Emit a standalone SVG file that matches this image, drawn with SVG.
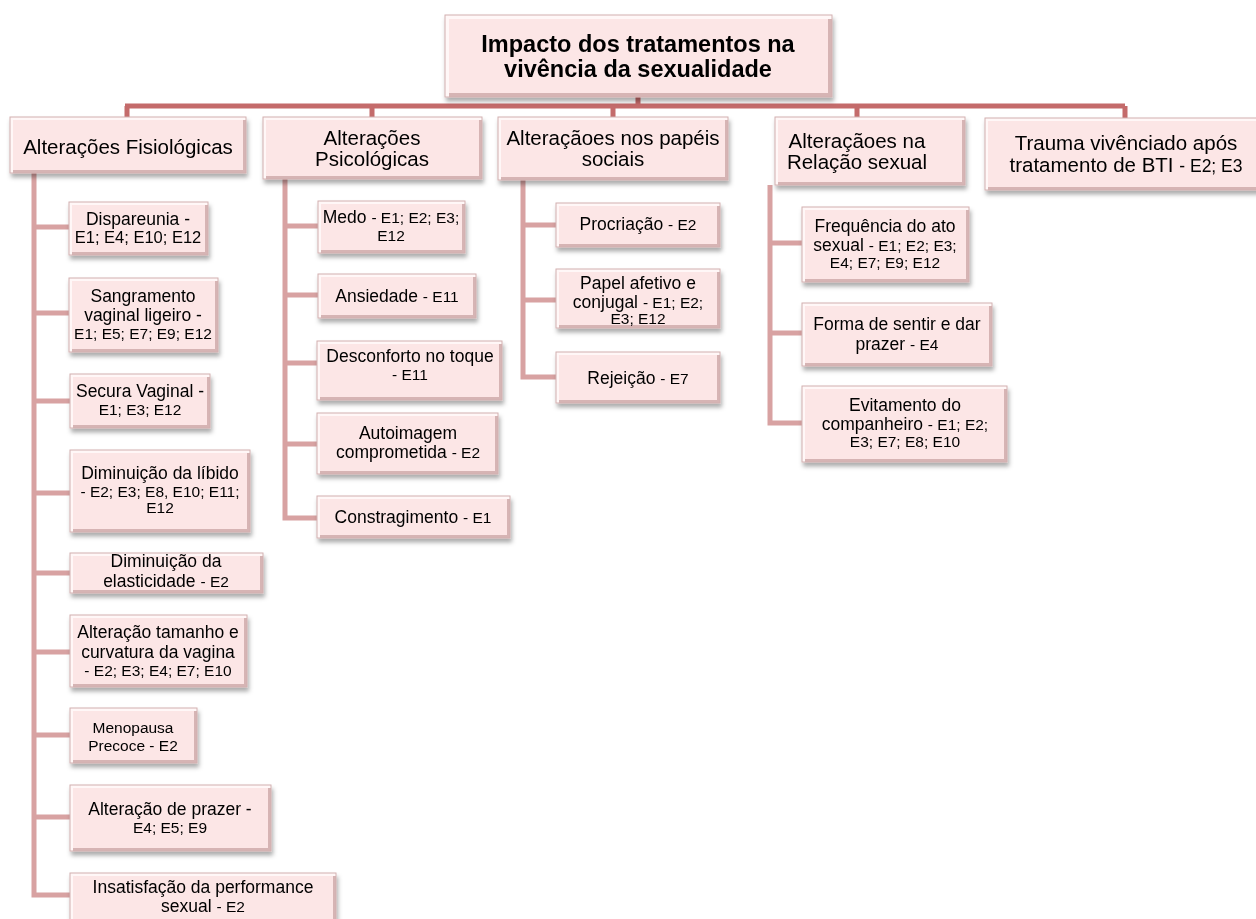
<svg xmlns="http://www.w3.org/2000/svg" width="1256" height="919" viewBox="0 0 1256 919">
<defs>
<filter id="sh" x="-10%" y="-10%" width="130%" height="140%">
<feDropShadow dx="1.5" dy="4" stdDeviation="2.2" flood-color="#000" flood-opacity="0.32"/>
</filter>
<style>
.lt{fill:#fff7f7}
.dk{fill:#d6b4b4}
.fc{fill:#fce6e6}
.ol{fill:none;stroke:#d2b0b0;stroke-width:1}
text{font-family:"Liberation Sans",Arial,sans-serif;fill:#000;text-anchor:middle}
.t0{font-size:23.5px;font-weight:bold}
.t1{font-size:20.5px}
.t2{font-size:17.5px}
.r{font-size:15.5px}
.bus{fill:none;stroke:#c46b6b;stroke-width:5}
.sp{fill:none;stroke:#d8a2a2;stroke-width:5}
</style>
</defs>
<rect width="1256" height="919" fill="#fff"/>

<g id="connectors">
<path class="bus" d="M638,97 V106 M125,106 H1125 M127,106 V118 M372,106 V118 M613,106 V118 M857,106 V118 M1125,106 V118"/>
<path class="sp" d="M34,173 V895 H70 M34,227 H70 M34,313 H70 M34,401 H70 M34,493 H70 M34,573 H70 M34,652 H70 M34,735 H70 M34,817 H70"/>
<path class="sp" d="M285,179 V518 H318 M285,226 H318 M285,295 H318 M285,363 H318 M285,444 H318"/>
<path class="sp" d="M523,180 V377 H556 M523,225 H556 M523,300 H556"/>
<path class="sp" d="M770,185 V423 H802 M770,243 H802 M770,333 H802"/>
</g>

<g id="root" filter="url(#sh)">
<rect class="lt" x="445" y="15" width="387" height="82"/><rect class="dk" x="449" y="19" width="383" height="78"/><rect class="fc" x="449" y="19" width="379" height="74"/><rect class="ol" x="445" y="15" width="387" height="82"/>
<text class="t0" x="638" y="52">Impacto dos tratamentos na</text>
<text class="t0" x="638" y="77">vivência da sexualidade</text>
</g>

<g id="fisio" filter="url(#sh)">
<rect class="lt" x="10" y="117" width="236" height="56"/><rect class="dk" x="13" y="120" width="233" height="53"/><rect class="fc" x="13" y="120" width="230" height="50"/><rect class="ol" x="10" y="117" width="236" height="56"/>
<text class="t1" x="128" y="154">Alterações Fisiológicas</text>
</g>
<g id="psico" filter="url(#sh)">
<rect class="lt" x="263" y="117" width="219" height="62"/><rect class="dk" x="266" y="120" width="216" height="59"/><rect class="fc" x="266" y="120" width="213" height="56"/><rect class="ol" x="263" y="117" width="219" height="62"/>
<text class="t1" x="372" y="145">Alterações</text>
<text class="t1" x="372" y="166">Psicológicas</text>
</g>
<g id="papeis" filter="url(#sh)">
<rect class="lt" x="498" y="117" width="230" height="63"/><rect class="dk" x="501" y="120" width="227" height="60"/><rect class="fc" x="501" y="120" width="224" height="57"/><rect class="ol" x="498" y="117" width="230" height="63"/>
<text class="t1" x="613" y="145">Alteraçãoes nos papéis</text>
<text class="t1" x="613" y="166">sociais</text>
</g>
<g id="relacao" filter="url(#sh)">
<rect class="lt" x="775" y="117" width="190" height="68"/><rect class="dk" x="778" y="120" width="187" height="65"/><rect class="fc" x="778" y="120" width="184" height="62"/><rect class="ol" x="775" y="117" width="190" height="68"/>
<text class="t1" x="857" y="148">Alteraçãoes na</text>
<text class="t1" x="857" y="169">Relação sexual</text>
</g>
<g id="trauma" filter="url(#sh)">
<rect class="lt" x="985" y="118" width="280" height="72"/><rect class="dk" x="988" y="121" width="277" height="69"/><rect class="fc" x="988" y="121" width="274" height="66"/><rect class="ol" x="985" y="118" width="280" height="72"/>
<text class="t1" x="1126" y="150">Trauma vivênciado após</text>
<text class="t1" x="1126" y="172">tratamento de BTI <tspan style="font-size:17.5px">- E2; E3</tspan></text>
</g>

<g id="dispareunia" filter="url(#sh)">
<rect class="lt" x="69" y="202" width="139" height="53"/><rect class="dk" x="72" y="205" width="136" height="50"/><rect class="fc" x="72" y="205" width="133" height="47"/><rect class="ol" x="69" y="202" width="139" height="53"/>
<text class="t2" x="138" y="225">Dispareunia -</text>
<text class="t2" x="138" y="243" style="font-size:16.5px">E1; E4; E10; E12</text>
</g>
<g id="sangramento" filter="url(#sh)">
<rect class="lt" x="69" y="278" width="149" height="74"/><rect class="dk" x="72" y="281" width="146" height="71"/><rect class="fc" x="72" y="281" width="143" height="68"/><rect class="ol" x="69" y="278" width="149" height="74"/>
<text class="t2" x="143" y="302">Sangramento</text>
<text class="t2" x="143" y="321">vaginal ligeiro -</text>
<text class="r" x="143" y="339">E1; E5; E7; E9; E12</text>
</g>
<g id="secura" filter="url(#sh)">
<rect class="lt" x="70" y="374" width="140" height="54"/><rect class="dk" x="73" y="377" width="137" height="51"/><rect class="fc" x="73" y="377" width="134" height="48"/><rect class="ol" x="70" y="374" width="140" height="54"/>
<text class="t2" x="140" y="397">Secura Vaginal -</text>
<text class="r" x="140" y="415">E1; E3; E12</text>
</g>
<g id="libido" filter="url(#sh)">
<rect class="lt" x="70" y="450" width="180" height="82"/><rect class="dk" x="73" y="453" width="177" height="79"/><rect class="fc" x="73" y="453" width="174" height="76"/><rect class="ol" x="70" y="450" width="180" height="82"/>
<text class="t2" x="160" y="479">Diminuição da líbido</text>
<text class="r" x="160" y="497">- E2; E3; E8, E10; E11;</text>
<text class="r" x="160" y="513">E12</text>
</g>
<g id="elasticidade" filter="url(#sh)">
<rect class="lt" x="70" y="553" width="193" height="40"/><rect class="dk" x="73" y="556" width="190" height="37"/><rect class="fc" x="73" y="556" width="187" height="34"/><rect class="ol" x="70" y="553" width="193" height="40"/>
<text class="t2" x="166" y="567">Diminuição da</text>
<text class="t2" x="166" y="587">elasticidade <tspan class="r">- E2</tspan></text>
</g>
<g id="tamanho" filter="url(#sh)">
<rect class="lt" x="70" y="615" width="177" height="72"/><rect class="dk" x="73" y="618" width="174" height="69"/><rect class="fc" x="73" y="618" width="171" height="66"/><rect class="ol" x="70" y="615" width="177" height="72"/>
<text class="t2" x="158" y="638">Alteração tamanho e</text>
<text class="t2" x="158" y="658">curvatura da vagina</text>
<text class="r" x="158" y="676">- E2; E3; E4; E7; E10</text>
</g>
<g id="menopausa" filter="url(#sh)">
<rect class="lt" x="70" y="708" width="127" height="55"/><rect class="dk" x="73" y="711" width="124" height="52"/><rect class="fc" x="73" y="711" width="121" height="49"/><rect class="ol" x="70" y="708" width="127" height="55"/>
<text class="r" x="133" y="733">Menopausa</text>
<text class="r" x="133" y="751">Precoce - E2</text>
</g>
<g id="prazer" filter="url(#sh)">
<rect class="lt" x="70" y="785" width="201" height="66"/><rect class="dk" x="73" y="788" width="198" height="63"/><rect class="fc" x="73" y="788" width="195" height="60"/><rect class="ol" x="70" y="785" width="201" height="66"/>
<text class="t2" x="170" y="815">Alteração de prazer -</text>
<text class="r" x="170" y="833">E4; E5; E9</text>
</g>
<g id="insatisfacao" filter="url(#sh)">
<rect class="lt" x="70" y="873" width="266" height="56"/><rect class="dk" x="73" y="876" width="263" height="53"/><rect class="fc" x="73" y="876" width="260" height="50"/><rect class="ol" x="70" y="873" width="266" height="56"/>
<text class="t2" x="203" y="893">Insatisfação da performance</text>
<text class="t2" x="203" y="912">sexual <tspan class="r">- E2</tspan></text>
</g>

<g id="medo" filter="url(#sh)">
<rect class="lt" x="318" y="201" width="147" height="52"/><rect class="dk" x="321" y="204" width="144" height="49"/><rect class="fc" x="321" y="204" width="141" height="46"/><rect class="ol" x="318" y="201" width="147" height="52"/>
<text class="t2" x="391" y="223">Medo <tspan class="r">- E1; E2; E3;</tspan></text>
<text class="r" x="391" y="241">E12</text>
</g>
<g id="ansiedade" filter="url(#sh)">
<rect class="lt" x="318" y="274" width="158" height="44"/><rect class="dk" x="321" y="277" width="155" height="41"/><rect class="fc" x="321" y="277" width="152" height="38"/><rect class="ol" x="318" y="274" width="158" height="44"/>
<text class="t2" x="397" y="302">Ansiedade <tspan class="r">- E11</tspan></text>
</g>
<g id="desconforto" filter="url(#sh)">
<rect class="lt" x="317" y="341" width="185" height="59"/><rect class="dk" x="320" y="344" width="182" height="56"/><rect class="fc" x="320" y="344" width="179" height="53"/><rect class="ol" x="317" y="341" width="185" height="59"/>
<text class="t2" x="410" y="362">Desconforto no toque</text>
<text class="r" x="410" y="380">- E11</text>
</g>
<g id="autoimagem" filter="url(#sh)">
<rect class="lt" x="317" y="413" width="181" height="61"/><rect class="dk" x="320" y="416" width="178" height="58"/><rect class="fc" x="320" y="416" width="175" height="55"/><rect class="ol" x="317" y="413" width="181" height="61"/>
<text class="t2" x="408" y="439">Autoimagem</text>
<text class="t2" x="408" y="458">comprometida <tspan class="r">- E2</tspan></text>
</g>
<g id="constragimento" filter="url(#sh)">
<rect class="lt" x="317" y="496" width="193" height="42"/><rect class="dk" x="320" y="499" width="190" height="39"/><rect class="fc" x="320" y="499" width="187" height="36"/><rect class="ol" x="317" y="496" width="193" height="42"/>
<text class="t2" x="413" y="523">Constragimento <tspan class="r">- E1</tspan></text>
</g>

<g id="procriacao" filter="url(#sh)">
<rect class="lt" x="556" y="203" width="164" height="44"/><rect class="dk" x="559" y="206" width="161" height="41"/><rect class="fc" x="559" y="206" width="158" height="38"/><rect class="ol" x="556" y="203" width="164" height="44"/>
<text class="t2" x="638" y="230">Procriação <tspan class="r">- E2</tspan></text>
</g>
<g id="papel" filter="url(#sh)">
<rect class="lt" x="556" y="269" width="164" height="59"/><rect class="dk" x="559" y="272" width="161" height="56"/><rect class="fc" x="559" y="272" width="158" height="53"/><rect class="ol" x="556" y="269" width="164" height="59"/>
<text class="t2" x="638" y="289">Papel afetivo e</text>
<text class="t2" x="638" y="308">conjugal <tspan class="r">- E1; E2;</tspan></text>
<text class="r" x="638" y="324">E3; E12</text>
</g>
<g id="rejeicao" filter="url(#sh)">
<rect class="lt" x="556" y="352" width="164" height="51"/><rect class="dk" x="559" y="355" width="161" height="48"/><rect class="fc" x="559" y="355" width="158" height="45"/><rect class="ol" x="556" y="352" width="164" height="51"/>
<text class="t2" x="638" y="384">Rejeição <tspan class="r">- E7</tspan></text>
</g>

<g id="frequencia" filter="url(#sh)">
<rect class="lt" x="802" y="207" width="167" height="75"/><rect class="dk" x="805" y="210" width="164" height="72"/><rect class="fc" x="805" y="210" width="161" height="69"/><rect class="ol" x="802" y="207" width="167" height="75"/>
<text class="t2" x="885" y="232">Frequência do ato</text>
<text class="t2" x="885" y="251">sexual <tspan class="r">- E1; E2; E3;</tspan></text>
<text class="r" x="885" y="268">E4; E7; E9; E12</text>
</g>
<g id="forma" filter="url(#sh)">
<rect class="lt" x="802" y="303" width="190" height="63"/><rect class="dk" x="805" y="306" width="187" height="60"/><rect class="fc" x="805" y="306" width="184" height="57"/><rect class="ol" x="802" y="303" width="190" height="63"/>
<text class="t2" x="897" y="330">Forma de sentir e dar</text>
<text class="t2" x="897" y="350">prazer <tspan class="r">- E4</tspan></text>
</g>
<g id="evitamento" filter="url(#sh)">
<rect class="lt" x="802" y="386" width="205" height="76"/><rect class="dk" x="805" y="389" width="202" height="73"/><rect class="fc" x="805" y="389" width="199" height="70"/><rect class="ol" x="802" y="386" width="205" height="76"/>
<text class="t2" x="905" y="411">Evitamento do</text>
<text class="t2" x="905" y="430">companheiro <tspan class="r">- E1; E2;</tspan></text>
<text class="r" x="905" y="447">E3; E7; E8; E10</text>
</g>
</svg>
